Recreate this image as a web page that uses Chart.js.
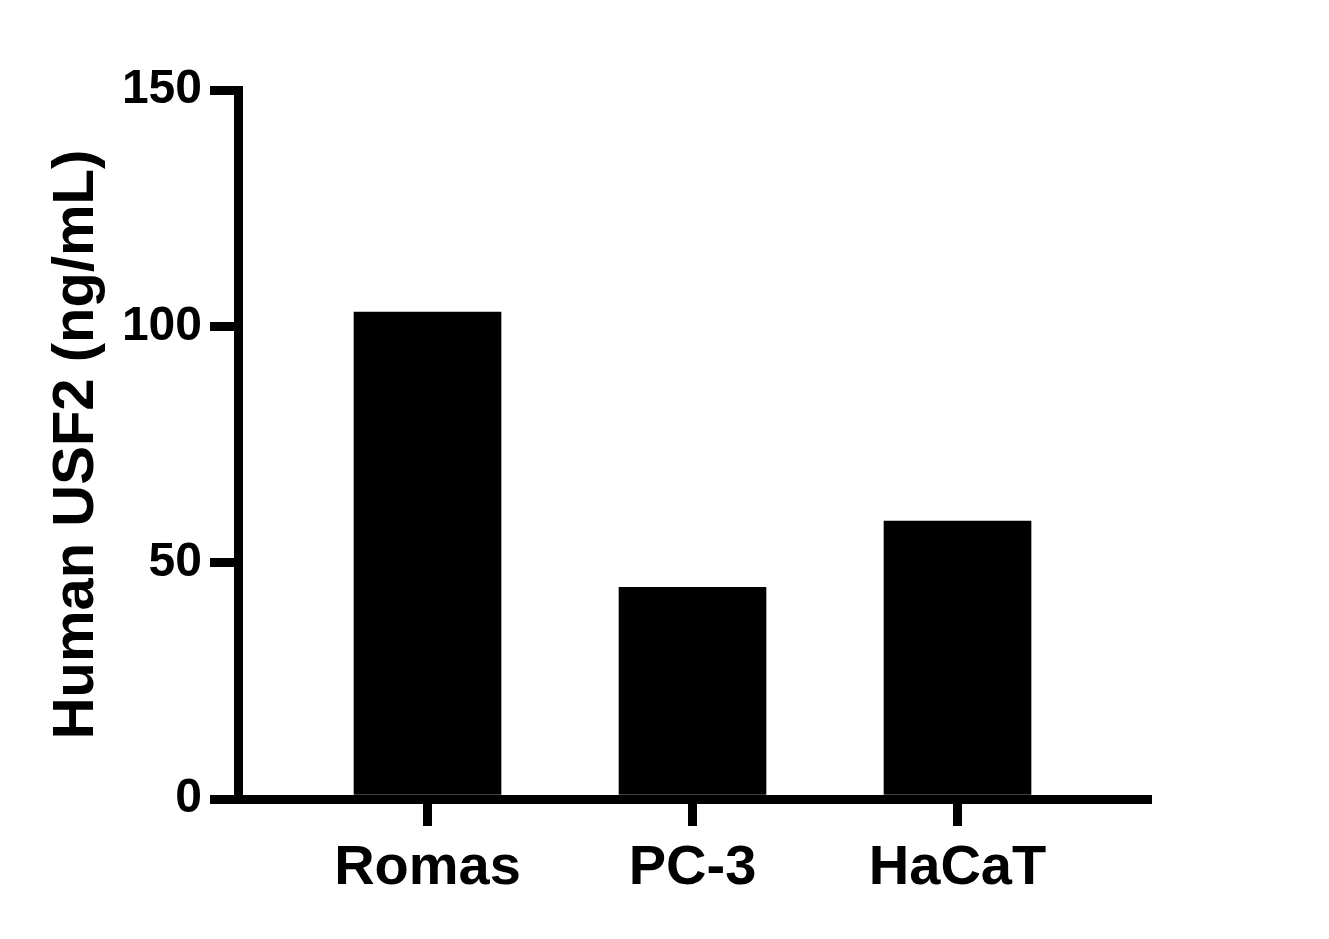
<!DOCTYPE html>
<html>
<head>
<meta charset="utf-8">
<script src="https://cdn.jsdelivr.net/npm/chart.js@4"></script>
<style>
  html, body { margin: 0; padding: 0; background: #fff; }
  canvas { display: block; }
</style>
</head>
<body>
<canvas id="myChart" width="1329" height="939"></canvas>
<script>
// cell lines and measured USF2 levels
let cellLines = ['Romas', 'PC-3', 'HaCaT']
let usf2Values = [103.0, 44.8, 58.8]
let yTicks = [0, 50, 100, 150]

const FONT = '"Liberation Sans", Arial, Helvetica, sans-serif'
const ctx = document.getElementById('myChart')

let chart = new Chart(ctx, {
  type: 'bar',
  data: {
    datasets: [{
      label: 'Human USF2',
      data: usf2Values.map((v, i) => ({ x: i + 1, y: v })),
      backgroundColor: '#000',
      borderWidth: 0,
      barThickness: 147
    }]
  },
  options: {
    responsive: false,
    animation: false,
    layout: { padding: { top: 90, right: 182, left: 0, bottom: 0 } },
    plugins: { legend: { display: false }, tooltip: { enabled: false } },
    scales: {
      x: {
        type: 'linear',
        offset: false,
        min: 0.2849,
        max: 3.715,
        afterBuildTicks: (scale) => {
          scale.ticks = cellLines.map((c, i) => ({ value: i + 1 }))
        },
        afterFit: (scale) => { scale.height = 140 },
        ticks: {
          autoSkip: false,
          maxRotation: 0,
          padding: 9,
          color: '#000',
          font: { family: FONT, size: 56, weight: 'bold' },
          callback: (v) => cellLines[v - 1] || ''
        },
        grid: {
          offset: false,
          drawOnChartArea: false,
          drawTicks: true,
          tickLength: 27,
          tickWidth: 9,
          tickColor: '#000',
          lineWidth: 9,
          color: '#000'
        },
        border: { display: true, color: '#000', width: 9 }
      },
      y: {
        min: 0,
        max: 150,
        afterBuildTicks: (scale) => {
          scale.ticks = yTicks.map(v => ({ value: v }))
        },
        afterFit: (scale) => { scale.width = 238 },
        ticks: {
          padding: 8,
          color: '#000',
          font: { family: FONT, size: 48, weight: 'bold' }
        },
        grid: {
          drawOnChartArea: false,
          drawTicks: true,
          tickLength: 28,
          tickWidth: 9,
          tickColor: '#000',
          lineWidth: 9,
          color: '#000'
        },
        border: { display: true, color: '#000', width: 9 },
        title: {
          display: true,
          text: 'Human USF2 (ng/mL)',
          color: '#000',
          padding: { top: 42, bottom: 0 },
          font: { family: FONT, size: 58, weight: 'bold' }
        }
      }
    }
  }
})
</script>
</body>
</html>
